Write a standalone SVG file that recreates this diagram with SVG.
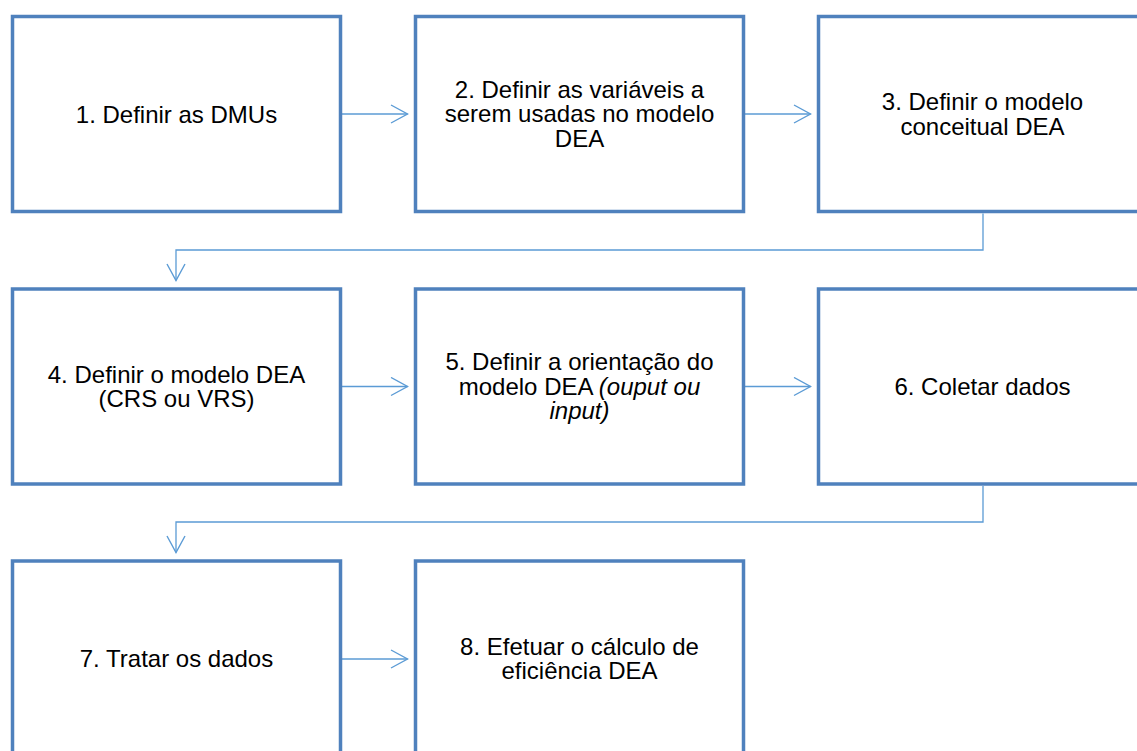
<svg xmlns="http://www.w3.org/2000/svg" width="1137" height="751" viewBox="0 0 1137 751">
  <style>
    .box { fill: #ffffff; stroke: #4F81BD; stroke-width: 3.5; }
    .lbl { font-family: "Liberation Sans", Arial, sans-serif; font-size: 24px; fill: #000000; text-anchor: middle; }
    .it { font-style: italic; }
    .conn { fill: none; stroke: #5B9BD5; stroke-width: 1.3; marker-end: url(#arrow); }
  </style>
  <defs>
    <marker id="arrow" markerUnits="userSpaceOnUse" viewBox="-18 -10 19 20" refX="0" refY="0" markerWidth="19" markerHeight="20" orient="auto">
      <path d="M -16.5 -9 L 0 0 L -16.5 9" fill="none" stroke="#5B9BD5" stroke-width="1.4"/>
    </marker>
  </defs>
  <rect width="1137" height="751" fill="#ffffff"/>

  <g id="connectors">
    <path class="conn" d="M 342 114 H 407.5"/>
    <path class="conn" d="M 745 114 H 810.5"/>
    <path class="conn" d="M 983 213.5 V 250 H 176 V 280.5"/>
    <path class="conn" d="M 342 386.5 H 407.5"/>
    <path class="conn" d="M 745 386.5 H 810.5"/>
    <path class="conn" d="M 983 486 V 522 H 176 V 552.5"/>
    <path class="conn" d="M 342 659 H 407.5"/>
  </g>

  <g id="node1">
    <rect class="box" x="12.5" y="16.5" width="328" height="195"/>
    <text class="lbl" x="176.5" y="122.5">1. Definir as DMUs</text>
  </g>
  <g id="node2">
    <rect class="box" x="415.5" y="16.5" width="328" height="195"/>
    <text class="lbl" x="579.5" y="97.8">2. Definir as variáveis a<tspan x="579.5" dy="24.5">serem usadas no modelo</tspan><tspan x="579.5" dy="24.5">DEA</tspan></text>
  </g>
  <g id="node3">
    <rect class="box" x="818.5" y="16.5" width="328" height="195"/>
    <text class="lbl" x="982.5" y="110.2">3. Definir o modelo<tspan x="982.5" dy="24.5">conceitual DEA</tspan></text>
  </g>
  <g id="node4">
    <rect class="box" x="12.5" y="289" width="328" height="195"/>
    <text class="lbl" x="176.5" y="382.7">4. Definir o modelo DEA<tspan x="176.5" dy="24.5">(CRS ou VRS)</tspan></text>
  </g>
  <g id="node5">
    <rect class="box" x="415.5" y="289" width="328" height="195"/>
    <text class="lbl" x="579.5" y="370.3">5. Definir a orientação do<tspan x="579.5" dy="24.5">modelo DEA <tspan class="it">(ouput ou</tspan></tspan><tspan x="579.5" dy="24.5" class="it">input)</tspan></text>
  </g>
  <g id="node6">
    <rect class="box" x="818.5" y="289" width="328" height="195"/>
    <text class="lbl" x="982.5" y="395">6. Coletar dados</text>
  </g>
  <g id="node7">
    <rect class="box" x="12.5" y="561" width="328" height="195"/>
    <text class="lbl" x="176.5" y="667">7. Tratar os dados</text>
  </g>
  <g id="node8">
    <rect class="box" x="415.5" y="561" width="328" height="195"/>
    <text class="lbl" x="579.5" y="654.8">8. Efetuar o cálculo de<tspan x="579.5" dy="24.5">eficiência DEA</tspan></text>
  </g>
</svg>
